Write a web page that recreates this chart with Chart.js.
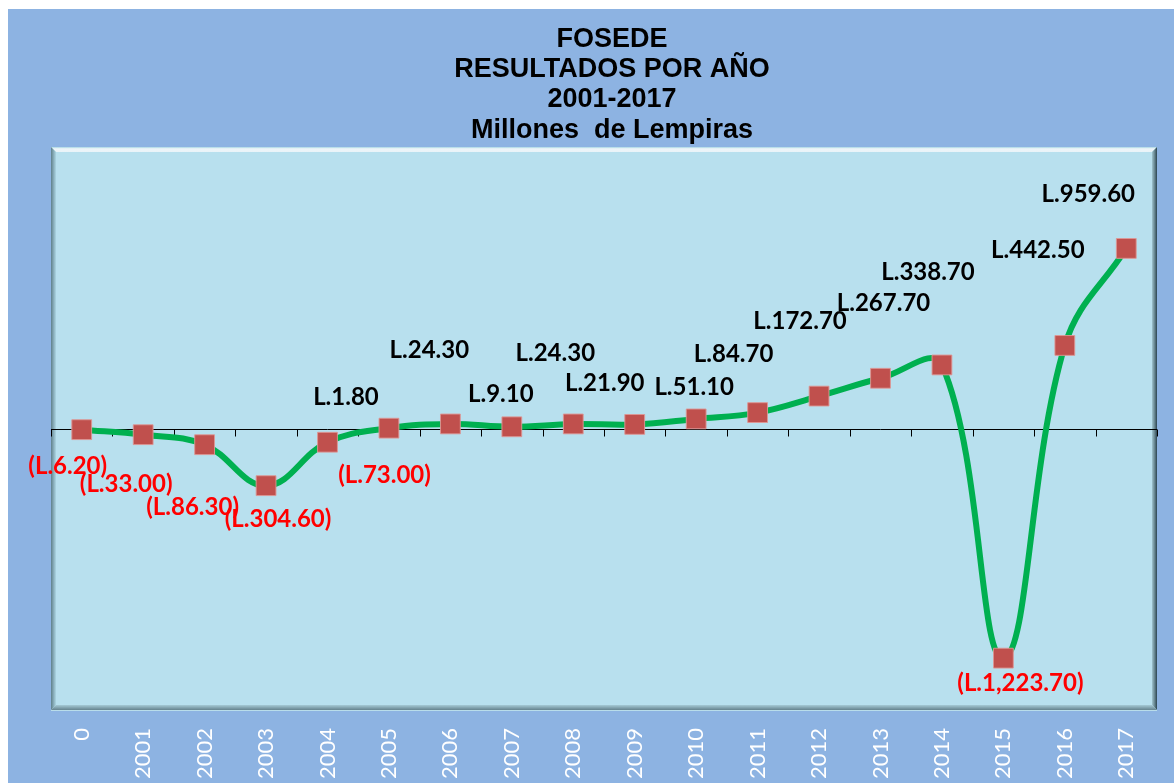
<!DOCTYPE html>
<html>
<head>
<meta charset="utf-8">
<script src="https://cdn.jsdelivr.net/npm/chart.js@4/dist/chart.umd.min.js"></script>
<style>
  html, body { margin: 0; padding: 0; background: #ffffff; }
  #wrap { padding: 9px 0 0 8px; width: 1166px; height: 774px; }
  canvas { display: block; background: #8DB3E2; }
</style>
</head>
<body>
<div id="wrap"><canvas id="c" width="1166" height="774"></canvas></div>
<script>
// ---- data ----
const categories = ['0','2001','2002','2003','2004','2005','2006','2007','2008','2009','2010','2011','2012','2013','2014','2015','2016','2017'];
const resultados = [-6.2, -33.0, -86.3, -304.6, -73.0, 1.8, 24.3, 9.1, 24.3, 21.9, 51.1, 84.7, 172.7, 267.7, 338.7, -1223.7, 442.5, 959.6];
const titleLines = ['FOSEDE', 'RESULTADOS POR AÑO', '2001-2017', 'Millones  de Lempiras'];
// manual label placement (pixel offsets from each point, as moved in the original)
const labelOffsets = [[-14,36],[-17,49],[-12,62],[12,33],[57,32],[-43,-32],[-21,-75],[-11,-33],[-18,-72],[-30,-42],[-2,-33],[-24,-59],[-19,-76],[3,-76],[-14,-94],[17,24],[-27,-96],[-38,-55]];

function fmt(v) {
  const s = 'L.' + Math.abs(v).toLocaleString('en-US', {minimumFractionDigits: 2, maximumFractionDigits: 2});
  return v < 0 ? '(' + s + ')' : s;
}

const plotBg = {
  id: 'plotBg',
  beforeDraw(chart) {
    const ctx = chart.ctx, a = chart.chartArea;
    const L = a.left, R = a.right, T = a.top, B = a.bottom, b = 5;
    ctx.save();
    ctx.fillStyle = '#B8E0EE';
    ctx.fillRect(L, T, R - L, B - T);
    let g;
    g = ctx.createLinearGradient(0, T, 0, T + b);
    g.addColorStop(0, '#A6D6E3'); g.addColorStop(0.35, '#EEF5F9'); g.addColorStop(1, '#E9F3F8');
    ctx.fillStyle = g;
    ctx.beginPath(); ctx.moveTo(L, T); ctx.lineTo(R, T); ctx.lineTo(R - b, T + b); ctx.lineTo(L + b, T + b); ctx.closePath(); ctx.fill();
    g = ctx.createLinearGradient(L, 0, L + b, 0);
    g.addColorStop(0, '#5F808A'); g.addColorStop(1, '#ADD6E4');
    ctx.fillStyle = g;
    ctx.beginPath(); ctx.moveTo(L, T); ctx.lineTo(L + b, T + b); ctx.lineTo(L + b, B - b); ctx.lineTo(L, B); ctx.closePath(); ctx.fill();
    g = ctx.createLinearGradient(R - b, 0, R, 0);
    g.addColorStop(0, '#9FC4CF'); g.addColorStop(0.6, '#5E7C86'); g.addColorStop(1, '#2B4450');
    ctx.fillStyle = g;
    ctx.beginPath(); ctx.moveTo(R, T); ctx.lineTo(R, B); ctx.lineTo(R - b, B - b); ctx.lineTo(R - b, T + b); ctx.closePath(); ctx.fill();
    g = ctx.createLinearGradient(0, B - b, 0, B);
    g.addColorStop(0, '#A5CAD6'); g.addColorStop(1, '#65838E');
    ctx.fillStyle = g;
    ctx.beginPath(); ctx.moveTo(L, B); ctx.lineTo(R, B); ctx.lineTo(R - b, B - b); ctx.lineTo(L + b, B - b); ctx.closePath(); ctx.fill();
    ctx.fillStyle = '#B9DDEA';
    ctx.fillRect(L, B, R - L, 1);
    ctx.restore();
  }
};

const zeroAxis = {
  id: 'zeroAxis',
  beforeDatasetsDraw(chart) {
    const ctx = chart.ctx, a = chart.chartArea;
    const x = chart.scales.x, y = chart.scales.y;
    const y0 = Math.round(y.getPixelForValue(0)) + 0.5;
    const step = x.getPixelForValue(1) - x.getPixelForValue(0);
    ctx.save();
    ctx.strokeStyle = '#000000';
    ctx.lineWidth = 1;
    ctx.beginPath();
    ctx.moveTo(a.left, y0); ctx.lineTo(a.right, y0);
    for (let i = 0; i <= categories.length; i++) {
      const px = Math.round(x.getPixelForValue(0) - step / 2 + i * step) + 0.5;
      ctx.moveTo(px, y0); ctx.lineTo(px, y0 + 7);
    }
    ctx.stroke();
    ctx.restore();
  }
};

const labelsAndTitle = {
  id: 'labelsAndTitle',
  afterDatasetsDraw(chart) {
    const ctx = chart.ctx;
    const meta = chart.getDatasetMeta(0);
    ctx.save();
    ctx.font = 'bold 24px Lato';
    ctx.textAlign = 'center';
    ctx.textBaseline = 'alphabetic';
    meta.data.forEach((pt, i) => {
      const v = resultados[i];
      const off = labelOffsets[i];
      ctx.fillStyle = v < 0 ? '#FF0000' : '#000000';
      ctx.fillText(fmt(v), pt.x + off[0], pt.y + off[1] + 8.6);
    });
    ctx.fillStyle = '#000000';
    ctx.font = 'bold 27px "Liberation Sans", Arial, sans-serif';
    titleLines.forEach((t, i) => {
      ctx.fillText(t, 604, 38 + i * 30.2);
    });
    ctx.restore();
  }
};

new Chart(document.getElementById('c'), {
  type: 'line',
  data: {
    labels: categories,
    datasets: [{
      data: resultados,
      borderColor: '#00B050',
      borderWidth: 6,
      tension: 0.4,
      pointStyle: 'rect',
      pointRadius: 14,
      pointHoverRadius: 14,
      pointBackgroundColor: '#C0504D',
      pointBorderColor: 'rgba(222,150,148,0.9)',
      pointBorderWidth: 1
    }]
  },
  options: {
    responsive: false,
    animation: false,
    devicePixelRatio: 1,
    layout: { padding: { left: 43, right: 17, top: 138, bottom: 0 } },
    plugins: { legend: { display: false }, tooltip: { enabled: false }, title: { display: false } },
    scales: {
      x: {
        type: 'category',
        offset: true,
        grid: { display: false, drawTicks: false },
        border: { display: false },
        ticks: {
          color: '#FFFFFF',
          font: { family: 'Lato', size: 22 },
          maxRotation: 90,
          minRotation: 90,
          padding: 18,
          autoSkip: false
        },
        afterFit(scale) { scale.height = 73; }
      },
      y: {
        display: false,
        min: -1500,
        max: 1500
      }
    }
  },
  plugins: [plotBg, zeroAxis, labelsAndTitle]
});
</script>
</body>
</html>
